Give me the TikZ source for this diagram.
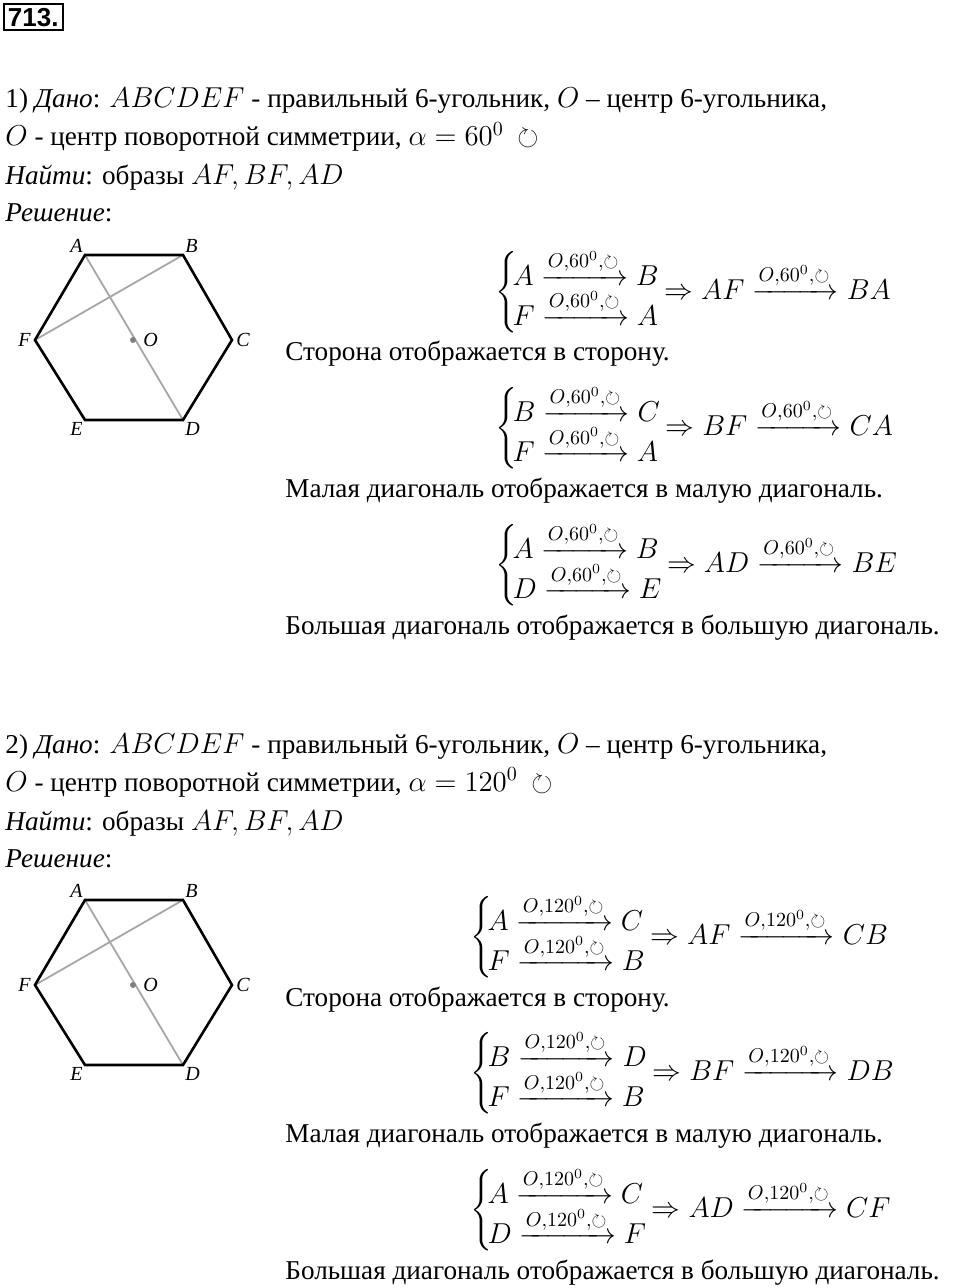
\documentclass[tikz,border=0pt]{standalone}
\usepackage{amsmath,amssymb}
\usepackage{fontspec}
\setmainfont{Liberation Serif}
\newfontfamily\headfont{Liberation Sans}
\usetikzlibrary{positioning}
\tikzset{
  txt/.style={anchor=base west, inner sep=0pt},
  sys/.style={anchor=west, inner sep=0pt},
  hexside/.style={line width=1.3pt},
  hexdiag/.style={gray!70, line width=0.9pt},
  vlab/.style={font=\itshape\fontsize{10}{12}\selectfont, inner sep=1pt}
}
\newcommand{\rot}[1]{\xrightarrow{O,#1^0,\circlearrowright}}
\newcommand{\twomaps}[2]{\left\{\!\begin{array}{@{}l@{}}#1\\[-3pt]#2\end{array}\right.\!}
\begin{document}
\begin{tikzpicture}[x=0.5pt,y=-0.5pt,font=\fontsize{13.6}{16}\selectfont]
\useasboundingbox (0,0) rectangle (960,1288);
\node[draw, line width=1pt, anchor=north west, inner sep=2pt,
  font=\headfont\bfseries\fontsize{13}{15}\selectfont] (num) at (3,3) {713.};

% two parts: offset, angle, system x, images
\foreach \dy/\pn/\ang/\sx/\ia/\ib/\ic/\id/\ie/\ig/\ih/\ij/\ik in
  {0/1/60/495/B/A/BA/C/A/CA/B/E/BE, 645/2/120/470/C/B/CB/D/B/DB/C/F/CF}{
  \node[txt] (given\pn) at (5,108+\dy) {\pn) \textit{Дано}: $ABCDEF$ - правильный 6-угольник, $O$ – центр 6-угольника,};
  \node[txt] (centre\pn) at (5,146+\dy) {$O$ - центр поворотной симметрии, $\alpha=\ang^0$\enspace$\circlearrowright$};
  \node[txt] (find\pn) at (5,185+\dy) {\textit{Найти}: образы $AF, BF, AD$};
  \node[txt] (sol\pn) at (5,222+\dy) {\textit{Решение}:};
  % hexagon
  \coordinate (A\pn) at (85,255+\dy);
  \coordinate (B\pn) at (183,255+\dy);
  \coordinate (C\pn) at (232,340+\dy);
  \coordinate (D\pn) at (183,420+\dy);
  \coordinate (E\pn) at (85,420+\dy);
  \coordinate (F\pn) at (35,340+\dy);
  \coordinate (O\pn) at (133,340+\dy);
  \draw[hexdiag] (A\pn) -- (D\pn) (F\pn) -- (B\pn);
  \draw[hexside] (A\pn) -- (B\pn) -- (C\pn) -- (D\pn) -- (E\pn) -- (F\pn) -- cycle;
  \fill[gray] (O\pn) circle (3);
  \node[vlab, above left=0pt and 0pt of A\pn] {A};
  \node[vlab, above right=0pt and 0pt of B\pn] {B};
  \node[vlab, right=1pt of C\pn] {C};
  \node[vlab, below right=0pt and 0pt of D\pn] {D};
  \node[vlab, below left=0pt and 0pt of E\pn] {E};
  \node[vlab, left=1pt of F\pn] {F};
  \node[vlab, right=4pt of O\pn] {O};
  % systems
  \node[sys] (sysa\pn) at (\sx,292+\dy)
    {$\twomaps{A\rot{\ang}\ia}{F\rot{\ang}\ib}\Rightarrow AF\rot{\ang}\ic$};
  \node[txt] (side\pn) at (285,361+\dy) {Сторона отображается в сторону.};
  \node[sys] (sysb\pn) at (\sx,428+\dy)
    {$\twomaps{B\rot{\ang}\id}{F\rot{\ang}\ie}\Rightarrow BF\rot{\ang}\ig$};
  \node[txt] (small\pn) at (285,497+\dy) {Малая диагональ отображается в малую диагональ.};
  \node[sys] (sysc\pn) at (\sx,565+\dy)
    {$\twomaps{A\rot{\ang}\ih}{D\rot{\ang}\ij}\Rightarrow AD\rot{\ang}\ik$};
  \node[txt] (big\pn) at (285,634+\dy) {Большая диагональ отображается в большую диагональ.};
}
\end{tikzpicture}
\end{document}
